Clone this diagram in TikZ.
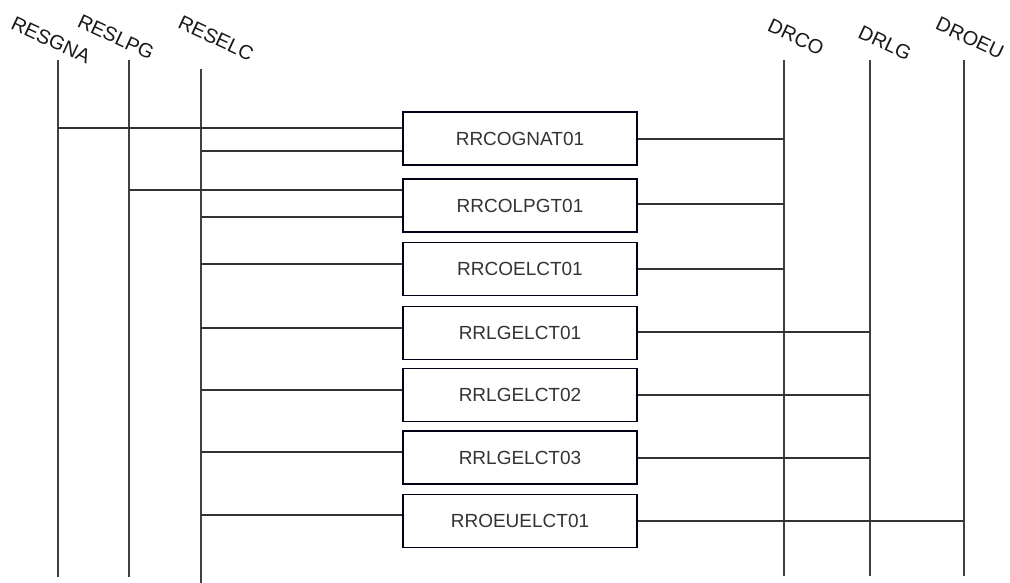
\documentclass[tikz,border=0pt]{standalone}
\usepackage{fontspec}
\setmainfont{Liberation Sans}
\begin{document}
\begin{tikzpicture}[x=1pt,y=-1pt,
  life/.style={draw=black!75,line width=1.7pt},
  conn/.style={draw=black!80,line width=1.5pt},
  boxnode/.style={draw=black!70!blue!30!black,line width=1.5pt,minimum width=234pt,minimum height=53pt,inner sep=0pt,font=\fontsize{19}{22}\selectfont,text=black!80},
  lbl/.style={rotate=-25,font=\fontsize{20}{24}\selectfont,text=black!90,inner sep=0pt}]
\useasboundingbox (0,0) rectangle (1010,583);
% lifeline tops and bottoms
\coordinate (gnaT) at (58,60);   \coordinate (gnaB) at (58,577);
\coordinate (lpgT) at (129,60);  \coordinate (lpgB) at (129,577);
\coordinate (elcT) at (201,69);  \coordinate (elcB) at (201,583);
\coordinate (dcoT) at (784,60);  \coordinate (dcoB) at (784,576);
\coordinate (dlgT) at (870,60);  \coordinate (dlgB) at (870,576);
\coordinate (deuT) at (964,60);  \coordinate (deuB) at (964,576);
\draw[life] (gnaT) -- (gnaB);
\draw[life] (lpgT) -- (lpgB);
\draw[life] (elcT) -- (elcB);
\draw[life] (dcoT) -- (dcoB);
\draw[life] (dlgT) -- (dlgB);
\draw[life] (deuT) -- (deuB);
% labels
\node[lbl] (lgna) at (51,40) {RESGNA};
\node[lbl] (llpg) at (116,37) {RESLPG};
\node[lbl] (lelc) at (216,38) {RESELC};
\node[lbl] (ldco) at (796,37) {DRCO};
\node[lbl] (ldlg) at (885,43) {DRLG};
\node[lbl] (ldeu) at (970,38) {DROEU};
% boxes
\node[boxnode] (b1) at (520,138.5) {RRCOGNAT01};
\node[boxnode] (b2) at (520,205.5) {RRCOLPGT01};
\node[boxnode] (b3) at (520,269) {RRCOELCT01};
\node[boxnode] (b4) at (520,333) {RRLGELCT01};
\node[boxnode] (b5) at (520,395) {RRLGELCT02};
\node[boxnode] (b6) at (520,457.5) {RRLGELCT03};
\node[boxnode] (b7) at (520,521) {RROEUELCT01};
% left connectors
\draw[conn] (gnaT |- 0,128) -- (b1.west |- 0,128);
\draw[conn] (elcT |- 0,151) -- (b1.west |- 0,151);
\draw[conn] (lpgT |- 0,190) -- (b2.west |- 0,190);
\draw[conn] (elcT |- 0,217) -- (b2.west |- 0,217);
\draw[conn] (elcT |- 0,264) -- (b3.west |- 0,264);
\draw[conn] (elcT |- 0,328) -- (b4.west |- 0,328);
\draw[conn] (elcT |- 0,390) -- (b5.west |- 0,390);
\draw[conn] (elcT |- 0,452) -- (b6.west |- 0,452);
\draw[conn] (elcT |- 0,515) -- (b7.west |- 0,515);
% right connectors
\draw[conn] (b1.east |- 0,139) -- (dcoT |- 0,139);
\draw[conn] (b2.east |- 0,204) -- (dcoT |- 0,204);
\draw[conn] (b3.east |- 0,269) -- (dcoT |- 0,269);
\draw[conn] (b4.east |- 0,332) -- (dlgT |- 0,332);
\draw[conn] (b5.east |- 0,395) -- (dlgT |- 0,395);
\draw[conn] (b6.east |- 0,458) -- (dlgT |- 0,458);
\draw[conn] (b7.east |- 0,521) -- (deuT |- 0,521);
\end{tikzpicture}
\end{document}
